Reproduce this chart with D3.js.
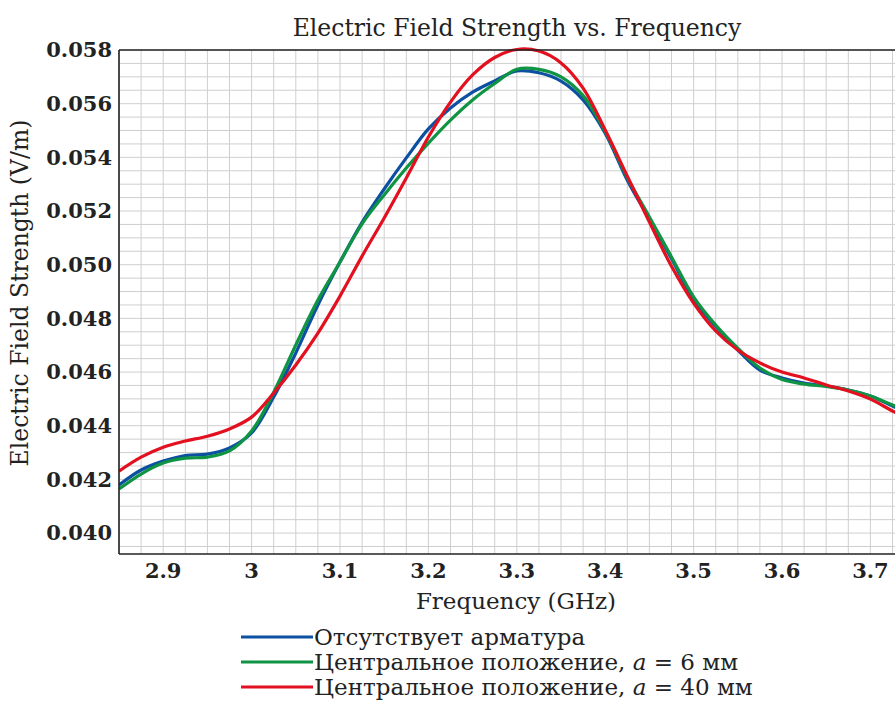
<!DOCTYPE html>
<html>
<head>
<meta charset="utf-8">
<script src="https://cdn.jsdelivr.net/npm/d3@7"></script>
<style>
  body { margin: 0; background: #fff; }
  svg { display: block; font-family: "DejaVu Serif", serif; }
  .grid line { stroke: #cfcfcf; stroke-width: 1; }
  .tick-label { font-weight: bold; font-size: 21px; fill: #222; }
</style>
</head>
<body>
<div id="chart"></div>
<script>
const freqs = [2.85, 2.875, 2.9, 2.925, 2.95, 2.975, 3.0, 3.025, 3.05, 3.075, 3.1, 3.125,
  3.15, 3.175, 3.2, 3.225, 3.25, 3.275, 3.3, 3.325, 3.35, 3.375, 3.4, 3.425, 3.45,
  3.475, 3.5, 3.525, 3.55, 3.575, 3.6, 3.625, 3.65, 3.675, 3.7, 3.725, 3.75];

const noRebar = [0.04179, 0.04235, 0.04268, 0.04289, 0.04294, 0.04317, 0.04373, 0.04507,
  0.04671, 0.0485, 0.0501, 0.05158, 0.05282, 0.05398, 0.05506, 0.05584, 0.05643, 0.05685,
  0.05722, 0.05715, 0.05684, 0.05614, 0.0549, 0.05315, 0.0517, 0.05022, 0.04872, 0.0477,
  0.04682, 0.04607, 0.04578, 0.04559, 0.04548, 0.04533, 0.04511, 0.04473, 0.04436];

const central6 = [0.04164, 0.0422, 0.04261, 0.04279, 0.04283, 0.04306, 0.0438, 0.04525,
  0.04701, 0.04868, 0.0501, 0.05152, 0.0526, 0.0536, 0.05453, 0.05539, 0.05614, 0.05675,
  0.05728, 0.05728, 0.057, 0.0563, 0.05497, 0.05325, 0.05178, 0.05029, 0.0488, 0.04775,
  0.04689, 0.04615, 0.04572, 0.04555, 0.04546, 0.04533, 0.04511, 0.04477, 0.04443];

const central40 = [0.04231, 0.04283, 0.0432, 0.04343, 0.04361, 0.04388, 0.04432, 0.04522,
  0.04626, 0.04745, 0.04883, 0.05032, 0.05174, 0.05323, 0.05476, 0.05606, 0.05707, 0.05772,
  0.05802, 0.05796, 0.05752, 0.05658, 0.05502, 0.0533, 0.05159, 0.04994, 0.04857, 0.04753,
  0.04682, 0.04634, 0.046, 0.04578, 0.04552, 0.04529, 0.04499, 0.04455, 0.04414];

const xTicks = [2.9, 3.0, 3.1, 3.2, 3.3, 3.4, 3.5, 3.6, 3.7];
const yTicks = [0.040, 0.042, 0.044, 0.046, 0.048, 0.050, 0.052, 0.054, 0.056, 0.058];

const seriesNames = [
  "Отсутствует арматура",
  "Центральное положение, a = 6 мм",
  "Центральное положение, a = 40 мм",
];
const seriesColors = ["#0d4fa0", "#0f9444", "#e3101f"];
const seriesValues = [noRebar, central6, central40];

const width = 895;
const height = 706;
const margin = { top: 50, left: 119 };
const plotBottom = 554;
const plotRight = 914.6;

const svg = d3.select("#chart").append("svg")
  .attr("width", width)
  .attr("height", height);

const x = d3.scaleLinear().domain([2.85, 3.75]).range([margin.left, plotRight]);
const y = d3.scaleLinear().domain([0.03922, 0.058]).range([plotBottom, margin.top]);

svg.append("defs").append("clipPath").attr("id", "plot-clip")
  .append("rect")
  .attr("x", margin.left)
  .attr("y", margin.top - 4)
  .attr("width", plotRight - margin.left)
  .attr("height", plotBottom - margin.top + 4);

// grid, minor steps of 0.025 GHz and 0.0005 V/m
const gridX = d3.range(0, 37).map((i) => 2.85 + i * 0.025);
const gridY = d3.range(0, 38).map((i) => 0.0395 + i * 0.0005).filter((v) => v > 0.0392 && v < 0.058);

const grid = svg.append("g").attr("class", "grid");
grid.selectAll(".gx")
  .data(gridX)
  .join("line")
  .attr("x1", (d) => x(d)).attr("x2", (d) => x(d))
  .attr("y1", margin.top).attr("y2", plotBottom);
grid.selectAll(".gy")
  .data(gridY)
  .join("line")
  .attr("x1", margin.left).attr("x2", plotRight)
  .attr("y1", (d) => y(d)).attr("y2", (d) => y(d));

// curves
const line = d3.line()
  .x((d, i) => x(freqs[i]))
  .y((d) => y(d))
  .curve(d3.curveCatmullRom.alpha(0.5));

svg.append("g")
  .attr("clip-path", "url(#plot-clip)")
  .selectAll("path")
  .data(seriesValues)
  .join("path")
  .attr("fill", "none")
  .attr("stroke", (d, i) => seriesColors[i])
  .attr("stroke-width", 3.2)
  .attr("stroke-linejoin", "round")
  .attr("d", line);

// frame
const frame = svg.append("g").attr("stroke", "#222").attr("stroke-width", 1.6);
frame.append("line").attr("x1", margin.left).attr("x2", margin.left).attr("y1", margin.top).attr("y2", plotBottom);
frame.append("line").attr("x1", margin.left).attr("x2", plotRight).attr("y1", plotBottom).attr("y2", plotBottom);
frame.append("line").attr("x1", margin.left).attr("x2", plotRight).attr("y1", margin.top).attr("y2", margin.top);

// tick labels
svg.append("g")
  .selectAll("text")
  .data(yTicks)
  .join("text")
  .attr("class", "tick-label")
  .attr("x", 112)
  .attr("y", (d) => y(d))
  .attr("dy", "0.35em")
  .attr("text-anchor", "end")
  .text((d) => d3.format(".3f")(d));

svg.append("g")
  .selectAll("text")
  .data(xTicks)
  .join("text")
  .attr("class", "tick-label")
  .attr("x", (d) => x(d))
  .attr("y", 578)
  .attr("text-anchor", "middle")
  .text((d) => (d === 3 ? "3" : d3.format(".1f")(d)));

// titles
svg.append("text")
  .attr("x", 517).attr("y", 36)
  .attr("text-anchor", "middle")
  .attr("font-size", 23.5)
  .attr("fill", "#222")
  .text("Electric Field Strength vs. Frequency");

svg.append("text")
  .attr("x", 516).attr("y", 609)
  .attr("text-anchor", "middle")
  .attr("font-size", 23)
  .attr("fill", "#222")
  .text("Frequency (GHz)");

svg.append("text")
  .attr("transform", "translate(28,293) rotate(-90)")
  .attr("text-anchor", "middle")
  .attr("font-size", 23.5)
  .attr("fill", "#222")
  .text("Electric Field Strength (V/m)");

// legend
const legend = svg.append("g");
const legendRows = legend.selectAll("g")
  .data(seriesNames)
  .join("g")
  .attr("transform", (d, i) => `translate(241,${637 + i * 25})`);

legendRows.append("line")
  .attr("x1", 0).attr("x2", 72)
  .attr("stroke", (d, i) => seriesColors[i])
  .attr("stroke-width", 3);

legendRows.append("text")
  .attr("x", 73)
  .attr("dy", "0.35em")
  .attr("font-size", 23)
  .attr("fill", "#222")
  .each(function (d) {
    const t = d3.select(this);
    const parts = d.split(" a ");
    if (parts.length === 1) {
      t.text(d);
      return;
    }
    t.append("tspan").text(parts[0] + " ");
    t.append("tspan").attr("font-style", "italic").text("a");
    t.append("tspan").text(" " + parts[1]);
  });
</script>
</body>
</html>
